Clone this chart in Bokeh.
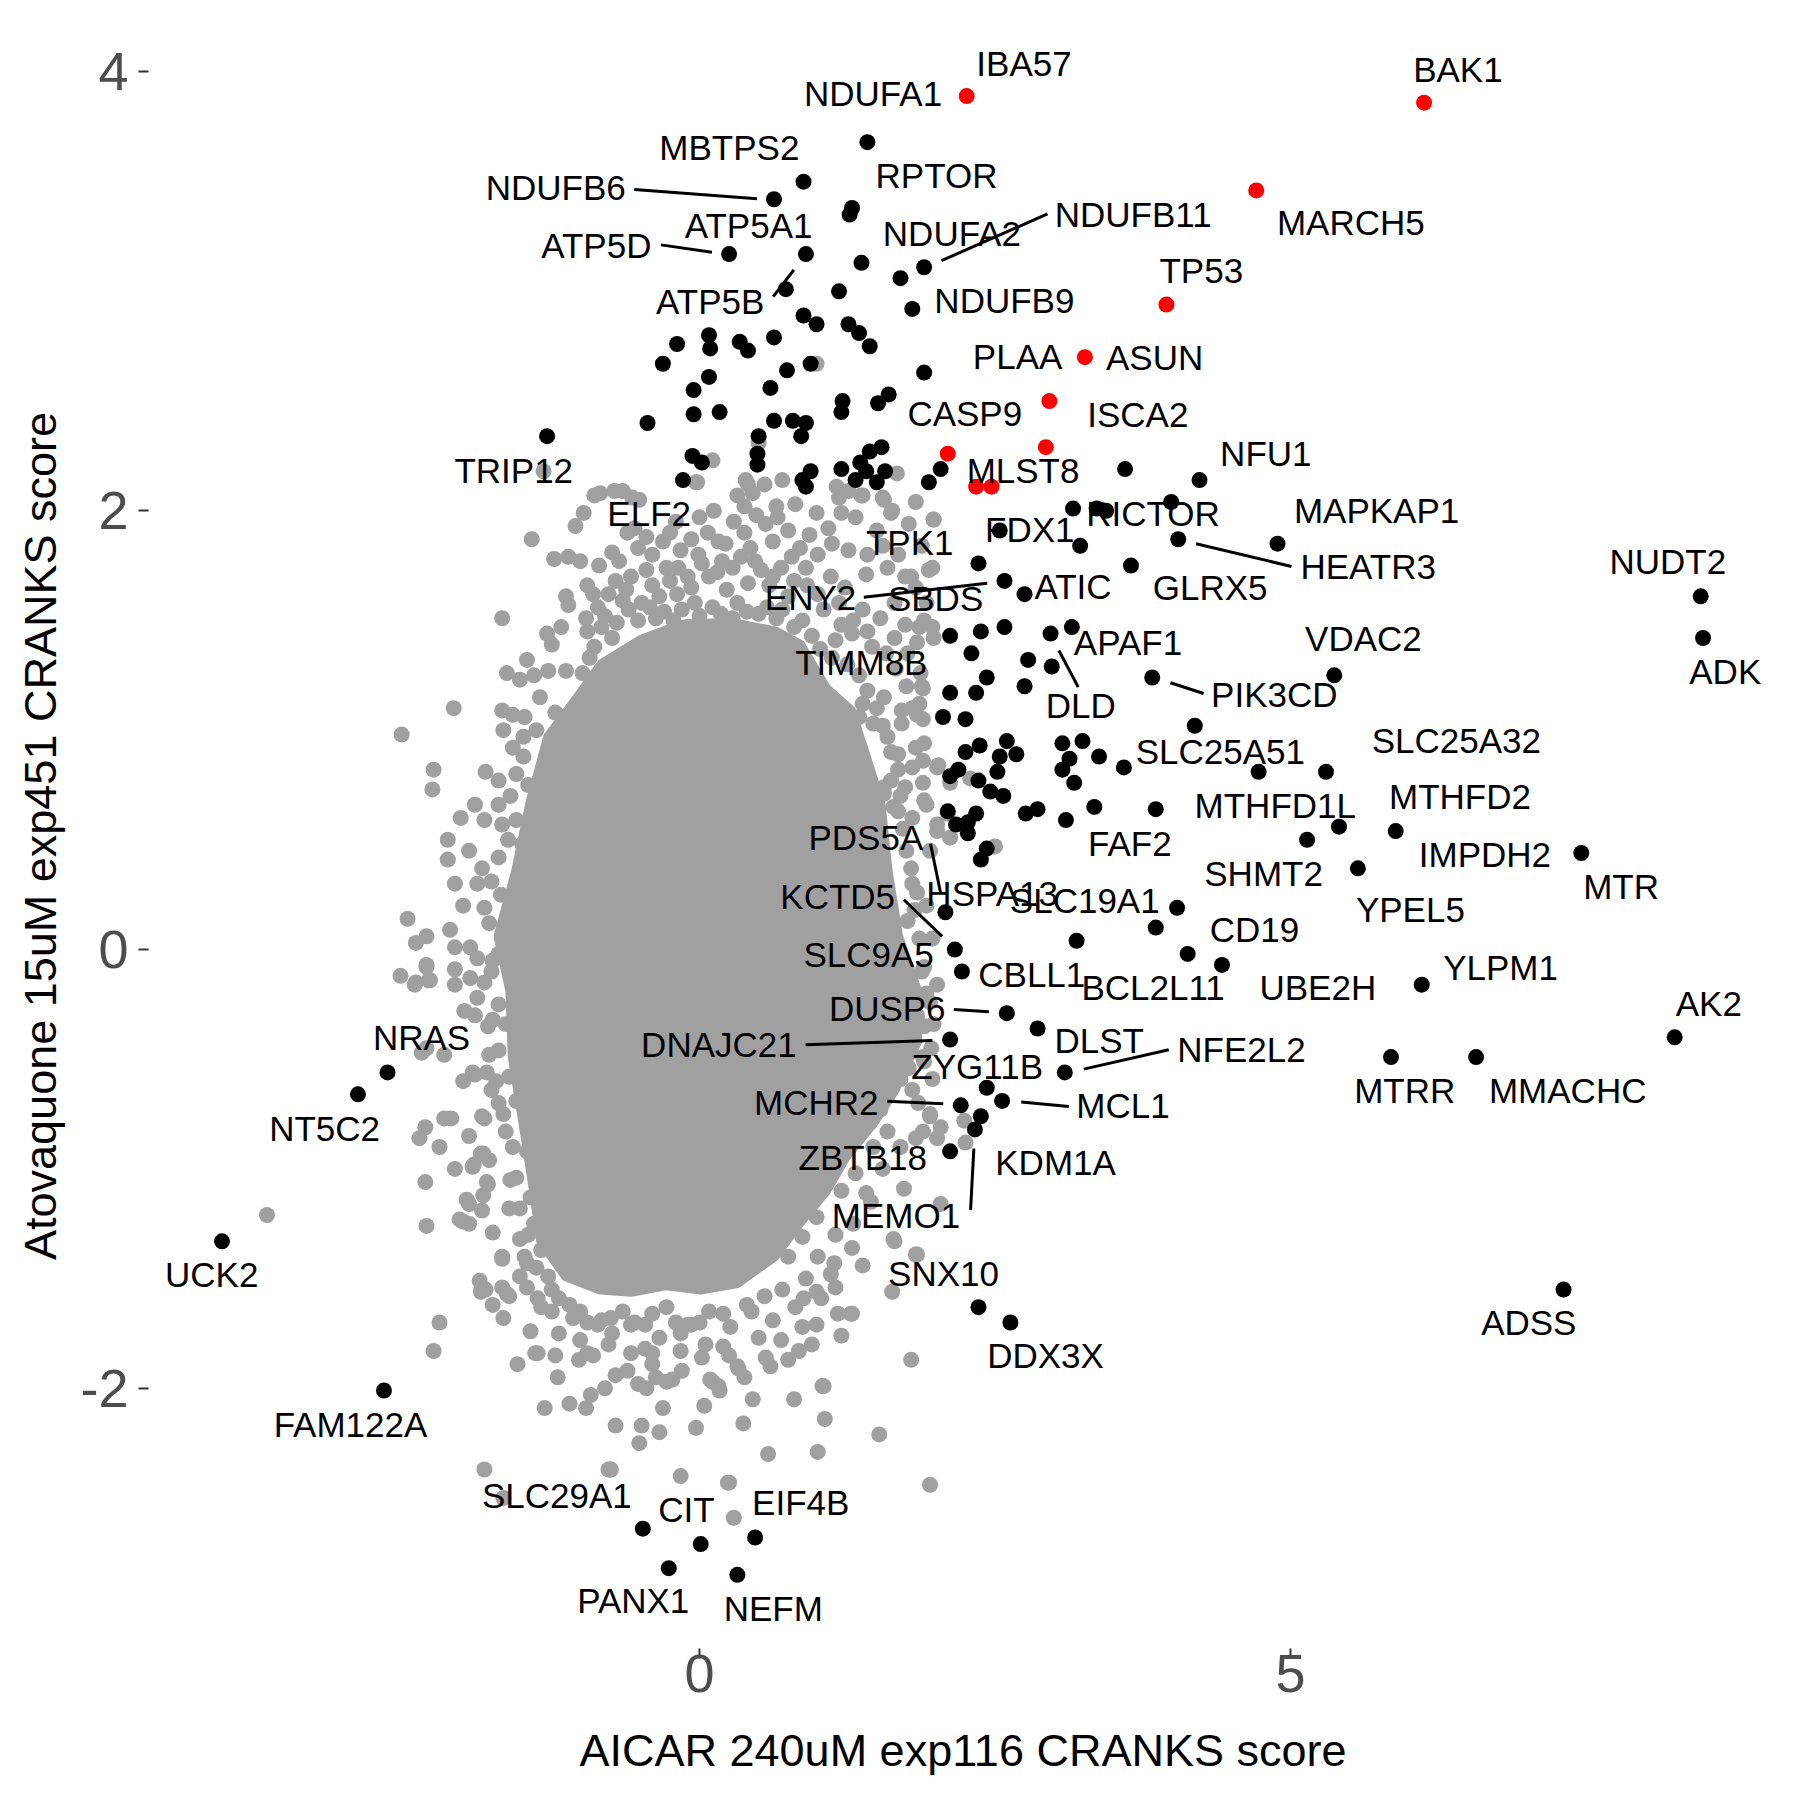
from bokeh.plotting import figure
from bokeh.models import ColumnDataSource, Range1d, FixedTicker
from bokeh.embed import file_html
from bokeh.resources import INLINE
from bokeh.core.properties import value

# ---------------- data ----------------
x_title = "AICAR 240uM exp116 CRANKS score"
y_title = "Atovaquone 15uM exp451 CRANKS score"
x_ticks = [0, 5]
y_ticks = [-2, 0, 2, 4]

# dense centre of the grey (non-hit) gene cloud, outline of the saturated area
core_outline = [(-0.50, 1.41), (-0.16, 1.48), (0.26, 1.49), (0.64, 1.45), (0.85, 1.39),
                (1.07, 1.19), (1.28, 1.09), (1.40, 0.89), (1.53, 0.67), (1.59, 0.36),
                (1.68, 0.06), (1.84, -0.19), (1.84, -0.42), (1.65, -0.64), (1.47, -0.79),
                (1.23, -0.95), (1.07, -1.10), (0.84, -1.25), (0.63, -1.40), (0.32, -1.52),
                (0.01, -1.55), (-0.28, -1.53), (-0.58, -1.56), (-0.84, -1.55), (-1.13, -1.49),
                (-1.34, -1.33), (-1.40, -1.10), (-1.49, -0.79), (-1.58, -0.49), (-1.60, -0.19),
                (-1.70, 0.06), (-1.55, 0.36), (-1.43, 0.67), (-1.28, 0.97), (-1.07, 1.12),
                (-0.83, 1.30)]

# grey genes outside the saturated centre
gray_points = [
    (-0.03, 2.13), (0.41, 2.12), (0.55, 2.12), (0.70, 2.14), (0.32, 2.07), (0.38, 2.02), (0.65, 2.02),
    (0.81, 2.03), (0.99, 1.99), (1.18, 2.06), (1.38, 2.07), (1.56, 2.05), (1.62, 1.99), (1.83, 2.04),
    (1.98, 1.96), (1.77, 1.94), (1.50, 1.91), (1.32, 1.97), (1.20, 1.99), (1.09, 1.92), (0.93, 1.89),
    (0.75, 1.91), (0.56, 1.94), (0.29, 1.95), (0.07, 1.90), (-0.07, 1.87), (0.16, 1.86), (0.43, 1.83),
    (0.62, 1.86), (0.78, 1.79), (0.90, 1.74), (0.69, 1.74), (0.52, 1.73), (0.35, 1.79), (0.19, 1.77),
    (-0.01, 1.80), (-0.16, 1.82), (-0.31, 1.86), (-0.40, 1.80), (-0.52, 1.83), (-0.61, 1.90),
    (-0.74, 1.81), (-0.89, 2.07), (-0.98, 1.99), (-1.05, 1.93), (-0.65, 2.09), (-0.51, 2.05),
    (-1.42, 1.87), (-1.23, 1.78), (-1.11, 1.79), (-1.01, 1.77), (-0.18, 1.74), (-0.28, 1.74),
    (-0.45, 1.73), (-0.58, 1.70), (-0.71, 1.68), (-0.95, 1.66), (-1.13, 1.61), (-1.11, 1.57),
    (-0.07, 1.65), (0.08, 1.70), (0.23, 1.64), (0.41, 1.67), (0.59, 1.66), (0.75, 1.61), (0.91, 1.66),
    (1.11, 1.70), (1.23, 1.65), (1.41, 1.71), (1.59, 1.74), (1.74, 1.70), (1.94, 1.73), (1.83, 1.65),
    (1.92, 1.58), (1.65, 1.58), (1.53, 1.51), (1.38, 1.55), (1.74, 1.48), (1.86, 1.47), (1.98, 1.42),
    (1.65, 1.42), (1.46, 1.38), (1.29, 1.44), (1.20, 1.48), (1.05, 1.55), (0.87, 1.50), (0.65, 1.51),
    (0.50, 1.53), (0.32, 1.58), (0.11, 1.56), (-0.04, 1.58), (-0.19, 1.62), (-0.34, 1.61),
    (-0.49, 1.58), (-0.65, 1.59), (-0.77, 1.62), (-0.86, 1.56), (-0.96, 1.51), (-0.83, 1.47),
    (-0.74, 1.42), (-0.89, 1.38), (-0.52, 1.50), (-0.37, 1.51), (-0.22, 1.50), (-0.10, 1.47),
    (-1.67, 1.51), (-1.29, 1.44), (-1.25, 1.39), (-1.17, 1.47), (-1.46, 1.32), (-1.63, 1.26),
    (-1.52, 1.23), (-1.40, 1.25), (-1.28, 1.27), (-1.13, 1.27), (-0.99, 1.26), (-0.93, 1.33),
    (-2.08, 1.10), (-2.52, 0.98), (-1.67, 1.09), (-1.58, 1.07), (-1.48, 1.06), (-1.66, 1.00),
    (-1.49, 0.97), (-1.58, 0.92), (-1.49, 0.88), (-2.25, 0.82), (-2.26, 0.73), (-1.81, 0.81),
    (-1.70, 0.77), (-1.90, 0.66), (-1.70, 0.66), (-1.60, 0.70), (-2.02, 0.60), (-1.82, 0.59),
    (-1.67, 0.57), (-1.55, 0.59), (-2.13, 0.50), (-2.13, 0.41), (-1.84, 0.37), (-2.07, 0.30),
    (-1.88, 0.30), (-1.76, 0.31), (-1.82, 0.19), (-2.47, 0.14), (-2.11, 0.09), (-2.31, 0.06),
    (-2.40, 0.03), (-2.07, 0.01), (-1.94, 0.01), (-1.88, -0.04), (-2.31, -0.07), (-2.53, -0.12),
    (-2.40, -0.15), (-2.28, -0.14), (-2.07, -0.16), (-1.94, -0.13), (-1.76, -0.10), (-1.70, -0.02),
    (1.89, 1.19), (1.86, 1.12), (1.89, 1.05), (1.71, 1.03), (1.83, 0.92), (1.89, 0.86), (2.01, 0.83),
    (1.80, 0.83), (1.68, 0.89), (1.59, 0.97), (1.47, 1.03), (1.35, 1.06), (1.23, 1.09), (1.11, 1.12),
    (1.38, 1.12), (1.56, 1.15), (1.71, 1.09), (1.62, 0.77), (1.74, 0.74), (1.89, 0.76), (1.56, 0.71),
    (1.92, 0.66), (1.80, 0.60), (2.01, 0.57), (1.68, 0.63), (1.47, 0.66),
    (1.67, 2.17), (1.98, 1.96), (1.97, 1.74), (1.79, 1.70), (1.90, 1.50), (1.97, 1.47), (1.84, 1.40),
    (1.76, 1.35), (1.87, 1.26), (1.88, 1.20), (1.84, 1.07), (1.90, 0.94), (2.02, 0.84), (2.29, 0.78),
    (2.12, 0.76), (1.90, 0.68), (2.10, 0.62), (2.50, 0.47), (2.01, 0.54), (2.12, 0.51), (1.64, 0.65),
    (1.56, 0.74),
    (1.97, 0.05), (2.01, -0.16), (1.95, -0.24), (1.90, -0.35), (1.97, -0.59), (1.95, -0.75),
    (2.04, -0.81), (2.24, -0.78), (2.25, -0.88), (1.73, -1.09), (2.04, -1.16), (1.64, -1.32),
    (1.84, -1.39), (1.38, -1.44), (1.63, -1.56), (1.28, -1.66), (1.79, -1.87), (1.04, -1.99),
    (1.79, 0.37), (1.84, 0.26), (1.76, 0.13), (1.90, -0.08), (1.79, -0.16), (1.84, -0.30),
    (1.76, -0.44), (1.90, -0.51), (1.70, -0.59),
    (-1.99, -0.28), (-1.88, -0.22), (-1.79, -0.35), (-2.16, -0.48), (-2.31, -0.45), (-1.90, -0.57),
    (-1.76, -0.64), (-1.82, -0.77), (-2.16, -0.77), (-2.32, -0.81), (-2.37, -0.86), (-2.20, -0.90),
    (-1.85, -0.93), (-2.07, -1.00), (-1.91, -0.98), (-2.32, -1.06), (-1.79, -1.07), (-1.97, -1.14),
    (-1.84, -1.19), (-2.00, -1.24), (-2.31, -1.26), (-1.75, -1.29), (-1.61, -1.18), (-1.52, -1.32),
    (-1.67, -1.40), (-1.48, -1.40), (-1.52, -1.49), (-1.85, -1.56), (-1.67, -1.54), (-1.61, -1.58),
    (-1.75, -1.62), (-1.66, -1.68), (-2.20, -1.70), (-2.25, -1.83), (-1.43, -1.74), (-1.37, -1.84),
    (-1.22, -1.85), (-1.54, -1.89), (-1.02, -1.87), (-0.95, -1.84), (-0.92, -2.03), (-0.96, -2.09),
    (-1.10, -2.07), (-1.31, -2.09), (-0.71, -2.17), (-0.49, -2.17), (-0.51, -2.25), (-0.34, -2.20),
    (-1.82, -2.37), (-0.77, -2.37), (-0.16, -2.40), (0.25, -2.43), (0.58, -2.30), (1.00, -2.29),
    (1.52, -2.21), (1.95, -2.44), (1.06, -2.14), (1.05, -1.99), (0.37, -2.16), (-0.03, -2.18),
    (0.04, -2.08), (-0.31, -2.09), (-0.37, -1.95), (-0.28, -1.97), (0.11, -1.97), (0.17, -2.01),
    (0.32, -1.90), (0.38, -1.95), (0.56, -1.86), (0.75, -1.87), (0.84, -1.83), (0.87, -1.72),
    (0.99, -1.71), (1.20, -1.76), (1.17, -1.66), (1.29, -1.66), (0.88, -1.59), (1.03, -1.59),
    (1.15, -1.54), (1.65, -1.33), (1.83, -1.39), (1.41, -1.11), (1.29, -1.36), (1.14, -1.43),
    (1.95, -0.76), (1.89, -0.83), (2.01, -0.86), (1.80, -0.64), (1.83, -0.86), (1.98, -0.34),
    (1.74, -0.26), (-0.07, -1.71), (0.05, -1.80), (-0.58, -1.71), (-0.46, -1.82), (-0.40, -1.84),
    (-0.74, -1.75), (-0.86, -1.71), (-1.07, -1.68), (-1.25, -1.65), (-1.37, -1.59), (-1.46, -1.54),
    (-1.34, -1.63), (-1.19, -1.59), (-1.01, -1.65), (-0.83, -1.69), (-0.65, -1.65), (-0.46, -1.71),
    (-0.28, -1.63), (-0.10, -1.71), (0.08, -1.65), (0.26, -1.72), (0.44, -1.65), (0.62, -1.69),
    (0.81, -1.63), (0.99, -1.56), (1.11, -1.48), (-1.19, -1.75), (-1.01, -1.78), (-0.77, -1.80),
    (-0.58, -1.84), (-0.40, -1.89), (-0.16, -1.83), (0.02, -1.86), (0.20, -1.81), (0.50, -1.77),
    (0.69, -1.78), (-0.61, -1.92), (-0.52, -1.98), (-0.71, -1.94), (-0.16, -1.75), (-0.34, -1.77),
    (-1.64, -0.34), (-1.70, -0.46), (-1.61, -0.58), (-1.70, -0.70), (-1.55, -0.69), (-1.64, -0.83),
    (-1.46, -0.92), (-1.55, -1.04), (-1.43, -1.13), (-1.40, -1.25), (-1.34, -1.37), (-1.46, -1.43),
    (-1.28, -1.49), (-1.70, -0.25), (-1.49, -0.49), (-1.37, -0.64),
    (1.89, -0.49), (1.77, -0.54), (1.59, -0.83), (1.47, -0.90), (1.32, -1.02), (1.20, -1.10),
    (0.99, -1.22), (0.87, -1.31), (0.75, -1.40), (1.38, -0.76), (1.53, -0.73),
    (-2.41, -0.16), (-2.29, -0.14), (-2.31, -0.08), (-2.07, -0.09), (-2.35, -0.47), (-1.92, -0.56),
    (-1.80, -0.56), (-2.10, -0.77), (-1.84, -0.76), (-1.83, -0.93), (-1.78, -0.96), (-1.92, -0.99),
    (-1.80, -1.06), (-1.83, -1.12), (-1.95, -1.16), (-2.03, -1.23), (-1.95, -1.25), (-1.67, -1.41),
    (-1.86, -1.51), (-1.81, -1.55), (-1.63, -1.57), (-1.39, -1.84), (-1.66, -2.50), (-0.75, -2.37),
    (0.24, -2.43), (0.29, -2.59), (-0.23, -1.96), (0.09, -1.96), (0.16, -1.99), (0.33, -1.91),
    (-3.66, -1.21),
    (-1.32, 2.18), (0.11, 2.23), (-0.02, 2.13), (0.50, 2.31), (0.99, 2.67), (-0.84, 2.08),
    (-0.72, 2.09), (-0.57, 2.06), (0.39, 2.14), (0.45, 2.08), (1.16, 2.11), (1.26, 2.09),
    (1.37, 2.07), (1.55, 2.06), (1.63, 2.00), (-0.76, -2.37),
    # fringe just outside the saturated centre
    (-0.95, 1.45), (-0.80, 1.52), (-0.70, 1.49), (-0.60, 1.55), (-0.42, 1.56), (-0.30, 1.54),
    (-0.15, 1.55), (0.00, 1.52), (0.18, 1.53), (0.28, 1.51), (0.40, 1.54), (0.57, 1.56), (0.70, 1.55),
    (0.80, 1.47), (0.95, 1.43), (1.02, 1.37), (1.12, 1.33), (1.15, 1.41), (1.25, 1.30), (1.35, 1.25),
    (1.42, 1.18), (1.50, 1.10), (1.55, 1.02), (1.62, 0.90), (1.68, 0.82), (1.70, 0.70), (1.72, 0.55),
    (1.75, 0.45), (1.80, 0.30), (1.82, 0.18), (1.86, 0.05), (1.88, -0.10), (1.92, -0.20),
    (-0.90, 1.62), (-0.62, 1.64), (-0.40, 1.66), (-0.25, 1.68), (-0.10, 1.70), (0.02, 1.76),
    (0.15, 1.72), (0.28, 1.74), (0.47, 1.77), (0.62, 1.70), (0.80, 1.68), (1.00, 1.62), (1.18, 1.58),
    (1.30, 1.50), (1.42, 1.45), (1.58, 1.35), (1.66, 1.28), (1.75, 1.20), (1.80, 1.10),
    (-0.85, 1.75), (-0.68, 1.77), (-0.55, 1.92), (-0.45, 1.88), (-0.25, 1.90), (-0.20, 1.95),
    (0.00, 1.97), (0.12, 2.00), (0.22, 1.85), (0.38, 1.90), (0.48, 1.98), (0.66, 1.97), (0.85, 1.83),
    (1.00, 1.80), (1.12, 1.85), (1.26, 1.82), (1.42, 1.80), (1.55, 1.84), (1.68, 1.80), (1.88, 1.84),
    (-1.35, 1.15), (-1.22, 1.08), (-1.38, 1.00), (-1.55, 0.80), (-1.45, 0.75), (-1.62, 0.50),
    (-1.50, 0.48), (-1.70, 0.42), (-1.68, 0.25), (-1.78, 0.12), (-1.75, -0.05), (-1.82, -0.15),
    (-1.75, -0.32), (-1.78, -0.48), (-1.72, -0.60), (-1.66, -0.75), (-1.58, -0.90), (-1.60, -1.05),
    (-1.52, -1.18), (-1.45, -1.30), (-1.38, -1.45), (-1.25, -1.55), (-2.00, 0.20), (-1.95, 0.45),
    (-1.90, -0.30), (-2.00, -0.60), (-1.95, -0.85),
    (1.95, 0.45), (1.92, 0.20), (1.96, -0.45), (1.85, -0.70), (1.70, -0.90), (1.55, -1.00),
    (1.45, -1.15), (1.30, -1.25), (1.15, -1.30), (1.00, -1.40), (0.90, -1.50), (0.70, -1.55),
    (0.55, -1.58), (0.40, -1.62), (0.20, -1.66), (0.00, -1.70), (-0.20, -1.70), (-0.40, -1.66),
    (-0.55, -1.70), (-0.75, -1.68), (-0.95, -1.70), (-1.10, -1.62), (-0.90, -1.85), (-0.45, -2.00),
    (-0.15, -1.92), (0.25, -1.85), (0.60, -1.90), (0.95, -1.80), (-0.80, -2.00), (-1.20, -1.95),
    (0.45, -2.05), (0.80, -2.05),
]

# hits (black)
black_points = [
    (1.42, 3.68), (0.88, 3.50), (0.63, 3.42), (1.29, 3.38), (1.27, 3.35), (0.25, 3.17), (0.90, 3.17),
    (1.37, 3.13), (1.90, 3.11), (1.70, 3.06), (0.73, 3.01), (1.18, 3.00), (1.80, 2.92), (0.88, 2.89),
    (0.99, 2.85), (1.26, 2.85), (1.35, 2.81), (1.44, 2.75), (0.08, 2.80), (0.09, 2.74), (-0.19, 2.76),
    (0.34, 2.77), (0.41, 2.73), (0.63, 2.79), (-0.31, 2.67), (0.94, 2.67), (0.74, 2.64), (0.08, 2.61),
    (-0.05, 2.55), (0.60, 2.56), (1.90, 2.63), (1.60, 2.53), (1.51, 2.49), (1.21, 2.50), (1.20, 2.45),
    (-0.05, 2.44), (0.17, 2.45), (-0.44, 2.40), (0.63, 2.41), (0.79, 2.41), (0.90, 2.40), (0.86, 2.34),
    (0.50, 2.34), (-1.29, 2.34), (0.49, 2.26), (0.49, 2.21), (-0.06, 2.25), (0.02, 2.22), (-0.14, 2.14),
    (0.94, 2.18), (0.87, 2.14), (0.90, 2.11), (1.20, 2.19), (1.36, 2.22), (1.44, 2.27), (1.54, 2.29),
    (1.41, 2.18), (1.32, 2.14), (1.57, 2.18), (1.50, 2.13), (2.04, 2.19), (1.94, 2.13),
    (3.60, 2.19), (4.23, 2.14), (3.16, 2.01), (3.36, 2.01), (3.44, 2.00), (3.99, 2.04), (2.54, 1.91),
    (3.22, 1.84), (4.05, 1.87), (3.65, 1.75), (2.36, 1.76), (2.58, 1.68), (2.75, 1.62), (2.12, 1.43),
    (2.38, 1.45), (2.58, 1.47), (2.97, 1.44), (3.15, 1.47), (2.30, 1.35), (2.78, 1.32), (2.98, 1.29),
    (3.83, 1.24), (2.43, 1.24), (2.12, 1.17), (2.34, 1.17), (2.75, 1.20), (2.06, 1.06), (2.25, 1.05),
    (4.19, 1.02), (2.25, 0.90), (2.37, 0.93), (2.60, 0.95), (2.54, 0.88), (2.68, 0.89), (2.52, 0.81),
    (2.12, 0.79), (2.19, 0.82), (2.36, 0.77), (2.46, 0.72), (2.57, 0.70), (3.07, 0.94), (3.24, 0.95),
    (3.13, 0.87), (3.07, 0.82), (3.38, 0.88), (3.59, 0.83), (3.17, 0.76), (2.76, 0.62), (2.86, 0.64),
    (3.10, 0.59), (3.34, 0.65), (3.86, 0.64), (2.10, 0.63), (2.17, 0.57), (2.27, 0.58), (2.34, 0.62),
    (2.27, 0.53), (2.43, 0.46), (2.38, 0.41),
    (4.89, 1.85), (8.47, 1.61), (8.49, 1.42), (5.37, 1.25), (4.73, 0.81), (5.30, 0.81), (5.41, 0.56),
    (5.14, 0.50), (5.89, 0.54), (5.57, 0.37), (7.46, 0.44), (4.04, 0.19), (3.86, 0.10), (4.13, -0.02),
    (4.42, -0.07), (6.11, -0.16), (8.25, -0.40), (5.85, -0.49), (6.57, -0.49), (7.31, -1.55),
    (2.08, 0.17), (3.19, 0.04), (2.16, 0.00), (2.22, -0.10), (2.60, -0.29), (2.86, -0.36), (2.12, -0.41),
    (3.09, -0.56), (2.43, -0.63), (2.56, -0.69), (2.21, -0.71), (2.38, -0.76), (2.33, -0.82),
    (2.12, -0.92), (2.36, -1.63), (2.63, -1.70),
    (-2.64, -0.56), (-2.89, -0.66), (-4.04, -1.33), (-2.67, -2.01), (-0.48, -2.64), (0.01, -2.71),
    (0.47, -2.68), (-0.26, -2.82), (0.32, -2.85),
]

# highlighted hits (red)
red_points = [(2.26, 3.89), (6.13, 3.86), (4.71, 3.46), (3.95, 2.94), (3.26, 2.70), (2.96, 2.50),
              (2.93, 2.29), (2.10, 2.26), (2.34, 2.11), (2.47, 2.11)]

# gene labels (text, label centre x, label centre y)
labels = [
    ("IBA57", 2.745, 4.035), ("NDUFA1", 1.468, 3.896), ("BAK1", 6.416, 4.009), ("MBTPS2", 0.252, 3.649),
    ("RPTOR", 2.005, 3.522), ("NDUFB6", -1.217, 3.467), ("ATP5A1", 0.415, 3.296), ("ATP5D", -0.873, 3.205),
    ("ATP5B", 0.090, 2.948), ("NDUFA2", 2.135, 3.258), ("NDUFB11", 3.669, 3.348), ("NDUFB9", 2.579, 2.952),
    ("MARCH5", 5.510, 3.309), ("TP53", 4.245, 3.091), ("PLAA", 2.691, 2.700), ("ASUN", 3.850, 2.695),
    ("CASP9", 2.244, 2.438), ("ISCA2", 3.708, 2.435), ("MLST8", 2.737, 2.180), ("NFU1", 4.791, 2.255),
    ("TRIP12", -1.572, 2.180), ("ELF2", -0.426, 1.982), ("RICTOR", 3.837, 1.982), ("FDX1", 2.794, 1.911),
    ("MAPKAP1", 5.728, 1.998), ("HEATR3", 5.657, 1.742), ("GLRX5", 4.320, 1.646), ("TPK1", 1.778, 1.853),
    ("ENY2", 0.939, 1.601), ("SBDS", 1.997, 1.594), ("ATIC", 3.160, 1.650), ("APAF1", 3.625, 1.397),
    ("TIMM8B", 1.369, 1.306), ("DLD", 3.226, 1.108), ("VDAC2", 5.617, 1.415), ("PIK3CD", 4.863, 1.160),
    ("NUDT2", 8.192, 1.762), ("ADK", 8.678, 1.265), ("SLC25A51", 4.406, 0.898), ("SLC25A32", 6.403, 0.949),
    ("MTHFD1L", 4.871, 0.652), ("MTHFD2", 6.434, 0.691), ("FAF2", 3.640, 0.478), ("PDS5A", 1.407, 0.505),
    ("SHMT2", 4.772, 0.342), ("IMPDH2", 6.645, 0.430), ("MTR", 7.797, 0.281), ("YPEL5", 6.014, 0.177),
    ("HSPA13", 2.476, 0.251), ("SLC19A1", 3.259, 0.219), ("KCTD5", 1.169, 0.239), ("CD19", 4.695, 0.085),
    ("SLC9A5", 1.430, -0.025), ("CBLL1", 2.811, -0.120), ("BCL2L11", 3.837, -0.176), ("UBE2H", 5.231, -0.176),
    ("YLPM1", 6.777, -0.088), ("AK2", 8.539, -0.249), ("DUSP6", 1.588, -0.273), ("DNAJC21", 0.164, -0.438),
    ("DLST", 3.381, -0.420), ("NFE2L2", 4.585, -0.462), ("ZYG11B", 2.349, -0.536), ("MTRR", 5.966, -0.649),
    ("MMACHC", 7.345, -0.649), ("MCHR2", 0.988, -0.704), ("MCL1", 3.583, -0.714), ("KDM1A", 3.012, -0.976),
    ("ZBTB18", 1.381, -0.952), ("MEMO1", 1.662, -1.216), ("SNX10", 2.064, -1.479), ("DDX3X", 2.927, -1.855),
    ("ADSS", 7.016, -1.706), ("NRAS", -2.352, -0.407), ("NT5C2", -3.172, -0.819), ("UCK2", -4.127, -1.488),
    ("FAM122A", -2.953, -2.170), ("SLC29A1", -1.207, -2.495), ("CIT", -0.111, -2.557), ("EIF4B", 0.856, -2.523),
    ("PANX1", -0.561, -2.971), ("NEFM", 0.624, -3.009),
]

# label leader segments (x0, y0, x1, y1)
leaders = [
    (-0.552, 3.464, 0.486, 3.422), (-0.326, 3.212, 0.105, 3.178), (0.623, 2.976, 0.798, 3.098),
    (2.047, 3.140, 2.944, 3.353), (4.201, 1.850, 5.008, 1.746), (1.390, 1.606, 2.434, 1.670),
    (3.040, 1.363, 3.204, 1.196), (3.984, 1.216, 4.265, 1.167), (1.954, 0.482, 2.039, 0.259),
    (1.728, 0.227, 2.053, 0.060), (2.151, -0.273, 2.448, -0.284), (0.897, -0.434, 1.970, -0.415),
    (3.251, -0.545, 3.970, -0.457), (1.588, -0.692, 2.062, -0.703), (2.722, -0.695, 3.124, -0.716),
    (2.321, -0.907, 2.293, -1.187),
]

# ---------------- styling ----------------
FONT = "Liberation Sans"
GRAY = "#A0A0A0"
X0, X1 = -4.662, 9.120
Y0, Y1 = -3.186, 4.221
FW, FH = 1629, 1625
PT = 16

p = figure(frame_width=FW, frame_height=FH,
           x_range=Range1d(X0, X1), y_range=Range1d(Y0, Y1),
           output_backend="svg", toolbar_location=None,
           min_border_left=148, min_border_right=7, min_border_top=23, min_border_bottom=136)
p.outline_line_color = None
p.grid.visible = False
p.background_fill_color = "white"
p.border_fill_color = "white"

p.patch([c[0] for c in core_outline], [c[1] for c in core_outline],
        fill_color=GRAY, line_color=GRAY, line_width=10, line_join="round")
p.scatter([g[0] for g in gray_points], [g[1] for g in gray_points],
          size=PT, fill_color=GRAY, line_color=None)
p.scatter([b[0] for b in black_points], [b[1] for b in black_points],
          size=PT, fill_color="black", line_color=None)
p.scatter([r[0] for r in red_points], [r[1] for r in red_points],
          size=PT, fill_color="#FF0000", line_color=None)

p.segment(x0=[s[0] for s in leaders], y0=[s[1] for s in leaders],
          x1=[s[2] for s in leaders], y1=[s[3] for s in leaders],
          line_color="black", line_width=3)

# the text anchor sits ~1 px above the visual centre of the capitals
label_shift = 1.0 * (Y1 - Y0) / FH
lab = ColumnDataSource(dict(x=[l[1] for l in labels],
                            y=[l[2] + label_shift for l in labels],
                            t=[l[0] for l in labels]))
p.text(x="x", y="y", text="t", source=lab, text_font=value(FONT), text_font_size="35px",
       text_align="center", text_baseline="alphabetic", text_color="black")

for ax in (p.xaxis[0], p.yaxis[0]):
    ax.axis_line_color = None
    ax.major_tick_line_color = "#333333"
    ax.major_tick_line_width = 2
    ax.major_tick_out = 10
    ax.major_tick_in = 0
    ax.minor_tick_line_color = None
    ax.major_label_text_font = FONT
    ax.major_label_text_font_size = "54px"
    ax.major_label_text_color = "#4D4D4D"
    ax.axis_label_text_font = FONT
    ax.axis_label_text_font_size = "45px"
    ax.axis_label_text_font_style = "normal"
    ax.axis_label_text_color = "black"

p.xaxis.ticker = FixedTicker(ticks=x_ticks)
p.yaxis.ticker = FixedTicker(ticks=y_ticks)
p.yaxis.major_label_overrides = {-2: "-2", 0: "0", 2: "2", 4: "4"}
p.xaxis.major_label_overrides = {0: "0", 5: "5"}
p.xaxis.axis_label = x_title
p.yaxis.axis_label = y_title
p.xaxis.major_label_standoff = -4
p.yaxis.major_label_standoff = 10
p.xaxis.axis_label_standoff = 30
p.yaxis.axis_label_standoff = 11

open("out.html", "w").write(file_html(p, INLINE))
